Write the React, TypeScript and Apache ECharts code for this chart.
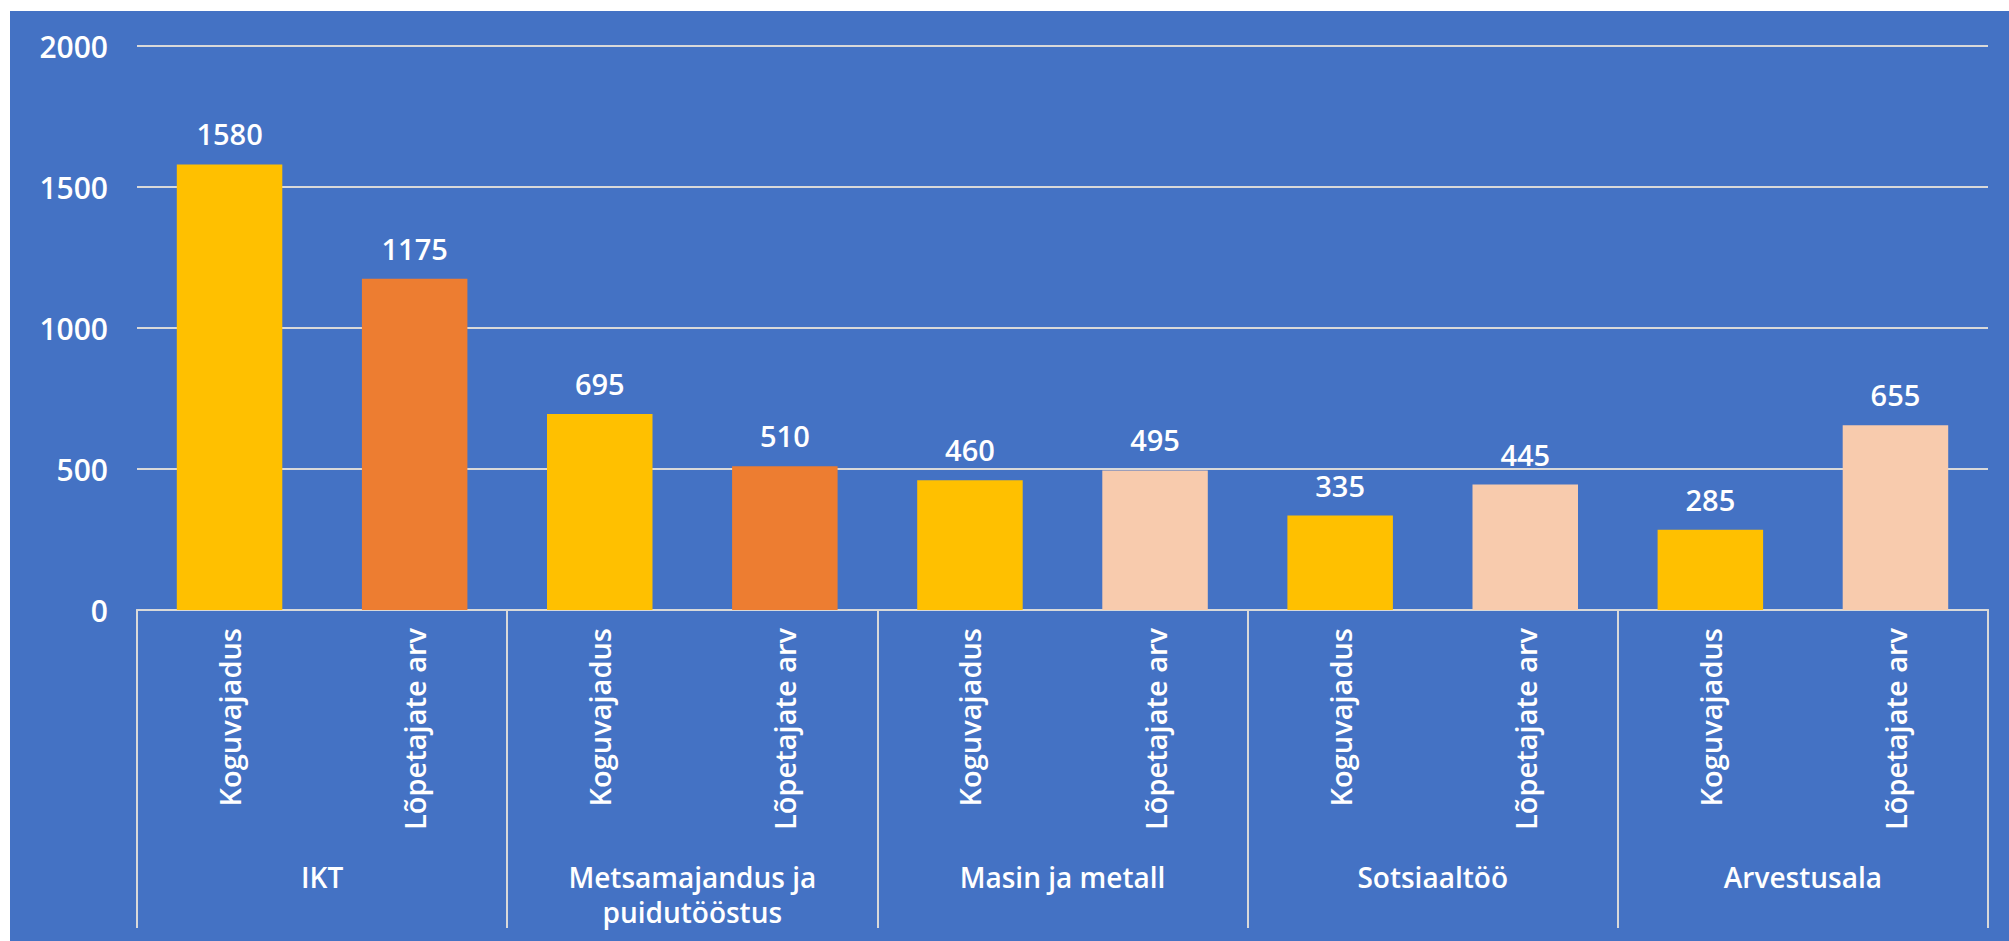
import React, { useEffect, useRef } from "react";
import * as echarts from "echarts";

const groups = ["IKT", "Metsamajandus ja puidutööstus", "Masin ja metall", "Sotsiaaltöö", "Arvestusala"];
const subLabels = ["Koguvajadus", "Lõpetajate arv"];
const koguvajadus = [1580, 695, 460, 335, 285];
const lopetajate = [1175, 510, 495, 445, 655];
const lopetajateColors = ["#ED7D31", "#ED7D31", "#F8CBAD", "#F8CBAD", "#F8CBAD"];
const yTicks = { min: 0, max: 2000, interval: 500 };

const FONT = "Open Sans";
const WEIGHT = 600;
const BLUE = "#4472C4";
const GRID = "#D9D9D9";

export default function App() {
  const ref = useRef<HTMLDivElement>(null);
  useEffect(() => {
    if (!ref.current) return;
    const chart = echarts.init(ref.current, undefined, { renderer: "svg" });
    const cats: string[] = [];
    const data: any[] = [];
    groups.forEach((g, i) => {
      cats.push(subLabels[0]);
      data.push({ value: koguvajadus[i], itemStyle: { color: "#FFC000" } });
      cats.push(subLabels[1]);
      data.push({ value: lopetajate[i], itemStyle: { color: lopetajateColors[i] } });
    });
    chart.setOption({
      animation: false,
      backgroundColor: BLUE,
      grid: { left: 127, right: 21, top: 35, bottom: 331, containLabel: false },
      xAxis: [
        {
          type: "category",
          data: cats,
          position: "bottom",
          axisLine: { show: true, lineStyle: { color: GRID, width: 2 } },
          axisTick: { show: false },
          axisLabel: {
            rotate: 90,
            margin: 18,
            color: "#FFFFFF",
            fontFamily: FONT,
            fontWeight: WEIGHT,
            fontSize: 29,
            interval: 0,
          },
        },
        {
          type: "category",
          data: groups,
          position: "bottom",
          axisLine: { show: true, lineStyle: { color: GRID, width: 2 } },
          axisTick: { show: true, length: 318, lineStyle: { color: GRID, width: 2 } },
          axisLabel: {
            margin: 249,
            color: "#FFFFFF",
            fontFamily: FONT,
            fontWeight: WEIGHT,
            fontSize: 28,
            lineHeight: 35,
            interval: 0,
            formatter: (v: string) => v.replace("Metsamajandus ja ", "Metsamajandus ja\n"),
          },
        },
      ],
      yAxis: {
        type: "value",
        min: yTicks.min,
        max: yTicks.max,
        interval: yTicks.interval,
        axisLine: { show: false },
        axisTick: { show: false },
        splitLine: { show: true, lineStyle: { color: GRID, width: 2 } },
        axisLabel: {
          color: "#FFFFFF",
          fontFamily: FONT,
          fontWeight: WEIGHT,
          fontSize: 30,
          margin: 29,
          formatter: (v: number) => String(v),
        },
      },
      series: [
        {
          type: "bar",
          xAxisIndex: 0,
          data,
          barCategoryGap: "43%",
          label: {
            show: true,
            position: "top",
            distance: 16,
            color: "#FFFFFF",
            fontFamily: FONT,
            fontWeight: WEIGHT,
            fontSize: 29,
          },
        },
      ],
    });
    return () => chart.dispose();
  }, []);
  return (
    <div style={{ position: "fixed", left: 0, top: 0, width: 2009, height: 941, background: "#FFFFFF" }}>
      <div ref={ref} style={{ position: "absolute", left: 10, top: 11, width: 1999, height: 930 }} />
    </div>
  );
}
